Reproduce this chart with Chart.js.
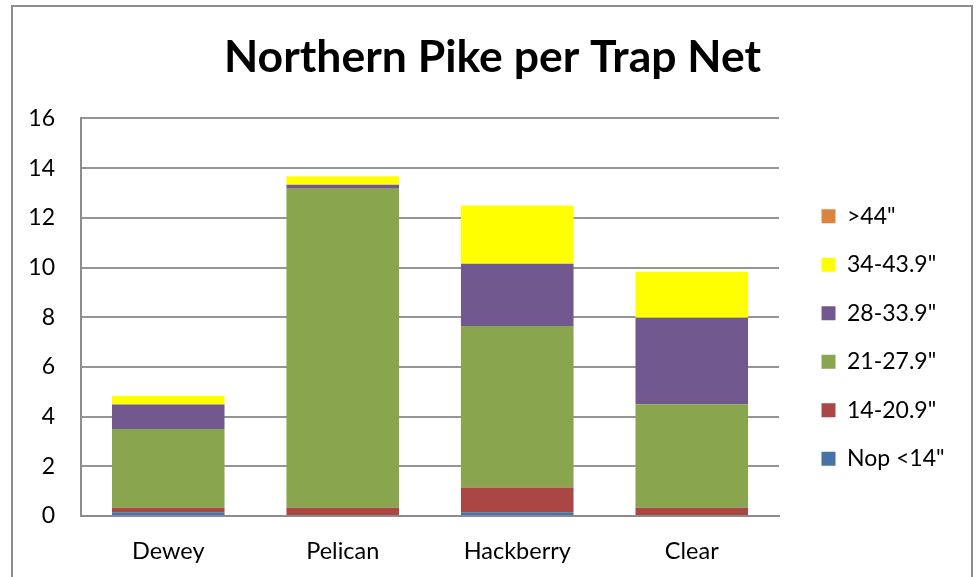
<!DOCTYPE html>
<html>
<head>
<meta charset="utf-8">
<script src="https://cdn.jsdelivr.net/npm/chart.js@4.4.1/dist/chart.umd.min.js"></script>
<style>
  html, body { margin: 0; padding: 0; background: #fff; }
  #wrap { position: relative; width: 978px; height: 577px; overflow: hidden; }
  #frame {
    position: absolute; left: 11px; top: 5px; width: 962px; height: 600px;
    border: 2px solid #8c8c8c; box-sizing: border-box;
  }
  canvas { position: absolute; left: 0; top: 0; }
</style>
</head>
<body>
<div id="wrap">
  <div id="frame"></div>
  <canvas id="chart" width="978" height="577"></canvas>
</div>
<script>
// lakes on the x axis
const lakes = ["Dewey", "Pelican", "Hackberry", "Clear"]

// fish per trap net, by length class
const nop14 = [0.15, 0, 0.15, 0]
const len14to20 = [0.18, 0.33, 1.0, 0.33]
const len21to27 = [3.17, 12.84, 6.5, 4.17]
const len28to33 = [0.99, 0.16, 2.5, 3.48]
const len34to43 = [0.35, 0.34, 2.35, 1.85]
const len44up = [0, 0, 0, 0]

const yTicks = [0, 2, 4, 6, 8, 10, 12, 14, 16]

const font = "Lato, 'Open Sans', sans-serif"

const bar = (label, data, color) => ({
  label: label,
  data: data,
  backgroundColor: color,
  borderWidth: 0,
  barPercentage: 0.645,
  categoryPercentage: 1.0,
})

// legend: fixed width so the plot ends where the original does, then nudged
const legendLayout = {
  id: "legendLayout",
  beforeLayout(chart) {
    const legend = chart.legend
    if (!legend || legend._fixed) return
    const fit = legend.fit
    legend.fit = function () {
      fit.call(this)
      this.width = 199
    }
    legend._fixed = true
  },
  afterLayout(chart) {
    const legend = chart.legend
    const dx = 17, dy = 49
    legend.left += dx
    legend.right += dx
    legend.top += dy
    legend.bottom += dy
  },
}

new Chart(document.getElementById("chart"), {
  type: "bar",
  data: {
    labels: lakes,
    datasets: [
      bar('Nop <14"', nop14, "#4572A7"),
      bar('14-20.9"', len14to20, "#AA4643"),
      bar('21-27.9"', len21to27, "#89A54E"),
      bar('28-33.9"', len28to33, "#71588F"),
      bar('34-43.9"', len34to43, "#FFFF00"),
      bar('>44"', len44up, "#DB843D"),
    ],
  },
  plugins: [legendLayout],
  options: {
    responsive: false,
    animation: false,
    layout: { padding: { left: 7, right: 0, top: 0, bottom: 0 } },
    plugins: {
      title: {
        display: true,
        text: "Northern Pike per Trap Net",
        color: "#000",
        font: { family: font, size: 44.5, weight: "bold" },
        padding: { top: 31, bottom: 34 },
      },
      legend: {
        position: "right",
        reverse: true,
        labels: {
          color: "#000",
          font: { family: font, size: 23 },
          boxWidth: 14,
          boxHeight: 14,
          padding: 25.5,
        },
      },
      tooltip: { enabled: false },
    },
    scales: {
      x: {
        stacked: true,
        afterFit: (axis) => { axis.height = 61 },
        grid: { display: false, drawTicks: false },
        border: { color: "#8c8c8c", width: 2 },
        ticks: { color: "#000", font: { family: font, size: 23.5 }, padding: 21 },
      },
      y: {
        stacked: true,
        min: 0,
        max: 16,
        afterBuildTicks: (axis) => { axis.ticks = yTicks.map((v) => ({ value: v })) },
        afterFit: (axis) => { axis.width = 74 },
        grid: { color: "#959595", lineWidth: 2, drawTicks: false },
        border: { color: "#8c8c8c", width: 2 },
        ticks: { color: "#000", font: { family: font, size: 23 }, padding: 26 },
      },
    },
  },
})
</script>
</body>
</html>
